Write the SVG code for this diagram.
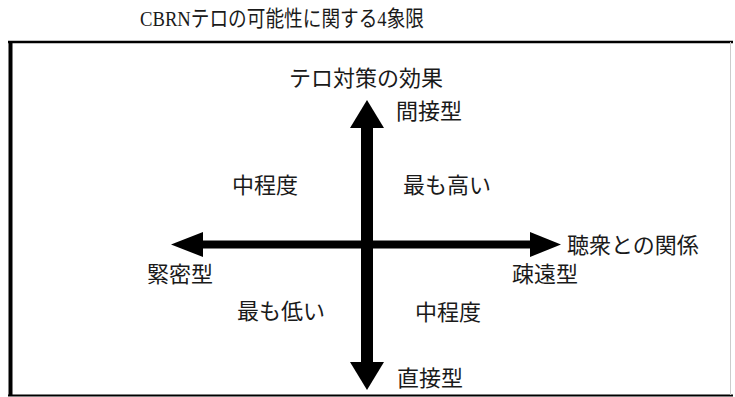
<svg xmlns="http://www.w3.org/2000/svg" width="735" height="397" viewBox="0 0 735 397">
  <style>
    .lbl { font-family: "Noto Sans CJK JP", "Noto Sans", sans-serif; font-size: 22px; fill: #1a1a1a; }
    .title { font-family: "Liberation Serif", "Noto Sans CJK JP", serif; font-size: 22px; fill: #1a1a1a; }
    .frame { stroke: #000; fill: none; }
    .axis { fill: #000; stroke: none; }
  </style>
  <rect x="0" y="0" width="735" height="397" fill="#fff"/>
  <g id="title">
    <text class="title" x="140" y="26" textLength="284" lengthAdjust="spacingAndGlyphs">CBRNテロの可能性に関する4象限</text>
  </g>
  <g id="frame">
    <line class="frame" x1="8" y1="42" x2="733" y2="42" stroke-width="2.5"/>
    <line class="frame" x1="10.5" y1="41" x2="10.5" y2="396" stroke-width="4"/>
    <line class="frame" x1="8" y1="395.5" x2="733" y2="395.5" stroke-width="2"/>
    <line x1="730.5" y1="42" x2="730.5" y2="395" stroke="#ccc" stroke-width="1"/>
  </g>
  <g id="connectors">
    <rect class="axis" x="202" y="240.5" width="329" height="8"/>
    <polygon class="axis" points="171,244.5 203,232 203,257"/>
    <polygon class="axis" points="561,244.5 530,232 530,257"/>
    <rect class="axis" x="361" y="127" width="12" height="236"/>
    <polygon class="axis" points="367,100 350,128 384,128"/>
    <polygon class="axis" points="367,390 350,362 384,362"/>
  </g>
  <g id="node-effect">
    <text class="lbl" x="366" y="86" text-anchor="middle">テロ対策の効果</text>
  </g>
  <g id="node-indirect">
    <text class="lbl" x="429" y="119" text-anchor="middle">間接型</text>
  </g>
  <g id="node-direct">
    <text class="lbl" x="430" y="386" text-anchor="middle">直接型</text>
  </g>
  <g id="node-relation">
    <text class="lbl" x="567" y="253">聴衆との関係</text>
  </g>
  <g id="node-distant">
    <text class="lbl" x="545" y="282" text-anchor="middle">疎遠型</text>
  </g>
  <g id="node-close">
    <text class="lbl" x="180" y="282" text-anchor="middle">緊密型</text>
  </g>
  <g id="node-q2">
    <text class="lbl" x="265" y="193" text-anchor="middle">中程度</text>
  </g>
  <g id="node-q1">
    <text class="lbl" x="447" y="193" text-anchor="middle">最も高い</text>
  </g>
  <g id="node-q3">
    <text class="lbl" x="281" y="319" text-anchor="middle">最も低い</text>
  </g>
  <g id="node-q4">
    <text class="lbl" x="448" y="320" text-anchor="middle">中程度</text>
  </g>
</svg>
